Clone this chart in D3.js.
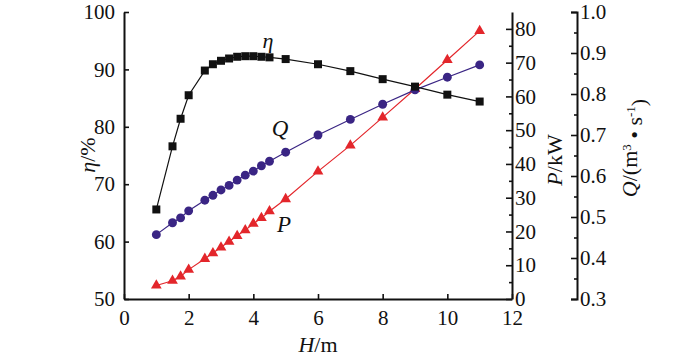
<!DOCTYPE html>
<html><head><meta charset="utf-8">
<script src="https://cdn.jsdelivr.net/npm/d3@7"></script>
<style>body{margin:0;background:#fff}svg{display:block}</style>
</head><body><svg id="c" width="700" height="358"></svg>
<script>
const H   = [1, 1.5, 1.75, 2, 2.5, 2.75, 3, 3.25, 3.5, 3.75, 4, 4.25, 4.5, 5, 6, 7, 8, 9, 10, 11];
const eta = [65.6, 76.6, 81.4, 85.5, 89.8, 90.9, 91.5, 91.9, 92.2, 92.3, 92.3, 92.2, 92.1, 91.8, 90.9, 89.7, 88.3, 87.0, 85.6, 84.4];
const Q   = [0.457, 0.486, 0.498, 0.515, 0.541, 0.553, 0.566, 0.577, 0.590, 0.602, 0.612, 0.625, 0.636, 0.658, 0.700, 0.738, 0.775, 0.810, 0.841, 0.871];
const P   = [4.0, 5.4, 6.7, 8.7, 11.9, 13.6, 15.3, 17.0, 18.7, 20.4, 22.3, 24.0, 26.0, 29.6, 37.8, 45.5, 53.8, 62.2, 70.8, 79.4];
const xTicks = [0, 2, 4, 6, 8, 10, 12];
const etaTicks = [50, 60, 70, 80, 90, 100];
const pTicks = [0, 10, 20, 30, 40, 50, 60, 70, 80];
const qTicks = [0.3, 0.4, 0.5, 0.6, 0.7, 0.8, 0.9, 1.0];

const FONT = '"Liberation Serif", "Times New Roman", Times, "DejaVu Serif", serif';
const svg = d3.select("#c").attr("font-family", FONT);
const L = 124, R = 512, T = 12, B = 299, QX = 577;
const x = d3.scaleLinear().domain([0, 12]).range([L, R]);
const yE = d3.scaleLinear().domain([50, 100]).range([B, T]);
const yP = d3.scaleLinear().domain([0, 85]).range([B, T]);
const yQ = d3.scaleLinear().domain([0.3, 1.0]).range([B, T]);
const FS = 21;

function styleAxis(g, sw) {
  g.attr("font-family", FONT);
  g.select(".domain").attr("stroke", "#111").attr("stroke-width", sw);
  g.selectAll(".tick line").attr("stroke", "#111").attr("stroke-width", 1.6);
  g.selectAll(".tick text").style("font-size", FS + "px").style("font-family", FONT).attr("fill", "#111");
}

// x axis
const gx = svg.append("g").attr("transform", `translate(0,${B})`)
  .call(d3.axisBottom(x).tickValues(xTicks).tickSize(-5).tickSizeOuter(0).tickPadding(11));
styleAxis(gx, 2);
gx.selectAll(".tick text").attr("dy", "0.71em");

// left axis
const gl = svg.append("g").attr("transform", `translate(${L},0)`)
  .call(d3.axisLeft(yE).tickValues(etaTicks).tickSize(-5).tickSizeOuter(0).tickPadding(9));
styleAxis(gl, 2);

// P axis (right of plot), minor ticks every 5
const gpm = svg.append("g").attr("transform", `translate(${R},0)`)
  .call(d3.axisRight(yP).tickValues(d3.range(5, 85, 10)).tickSize(-3).tickSizeOuter(0).tickFormat(""));
gpm.select(".domain").remove();
gpm.selectAll(".tick line").attr("stroke", "#111").attr("stroke-width", 1.6);
const gp = svg.append("g").attr("transform", `translate(${R},0)`)
  .call(d3.axisRight(yP).tickValues(pTicks).tickSize(-6).tickSizeOuter(0).tickPadding(3));
styleAxis(gp, 2);
gp.selectAll(".tick text").attr("x", 3);

// Q axis, minor ticks every 0.05
const gqm = svg.append("g").attr("transform", `translate(${QX},0)`)
  .call(d3.axisRight(yQ).tickValues(d3.range(0.35, 1.0, 0.1)).tickSize(-3).tickSizeOuter(0).tickFormat(""));
gqm.select(".domain").remove();
gqm.selectAll(".tick line").attr("stroke", "#111").attr("stroke-width", 1.6);
const gq = svg.append("g").attr("transform", `translate(${QX},0)`)
  .call(d3.axisRight(yQ).tickValues(qTicks).tickSize(-6).tickSizeOuter(-6).tickFormat(d3.format(".1f")).tickPadding(3));
styleAxis(gq, 2);
gq.selectAll(".tick text").attr("x", 3);

// series
const pts = H.map((h, i) => ({ h, e: eta[i], q: Q[i], p: P[i] }));
const cE = "#111", cQ = "#3a2584", cP = "#e3262b";

function series(acc, yS, col, sym, size) {
  svg.append("path").datum(pts)
    .attr("fill", "none").attr("stroke", col).attr("stroke-width", 1.2)
    .attr("d", d3.line().x(d => x(d.h)).y(d => yS(acc(d))));
  svg.append("g").selectAll("path").data(pts).join("path")
    .attr("transform", d => `translate(${x(d.h)},${yS(acc(d))})`)
    .attr("d", d3.symbol().type(sym).size(size))
    .attr("fill", col);
}
series(d => d.p, yP, cP, d3.symbolTriangle, 50);
series(d => d.q, yQ, cQ, d3.symbolCircle, 62);
series(d => d.e, yE, cE, d3.symbolSquare, 64);

function txt(x0, y0, size) {
  return svg.append("text").attr("x", x0).attr("y", y0).attr("text-anchor", "middle")
    .style("font-size", size + "px").style("font-family", FONT).attr("fill", "#111");
}
// curve labels
txt(268, 48, 22).style("font-style", "italic").text("η");
txt(280, 136, 23).style("font-style", "italic").text("Q");
txt(284, 232, 23).style("font-style", "italic").text("P");

// axis titles
const tx = txt(318, 352, 22);
tx.append("tspan").style("font-style", "italic").text("H");
tx.append("tspan").text("/m");

function rtxt(x0, y0) {
  return svg.append("text").attr("transform", `translate(${x0},${y0}) rotate(-90)`).attr("text-anchor", "middle")
    .style("font-size", "22px").style("font-family", FONT).attr("fill", "#111");
}
const tl = rtxt(95, 155);
tl.append("tspan").style("font-style", "italic").text("η");
tl.append("tspan").text("/%");

const tp = rtxt(562, 160);
tp.append("tspan").style("font-style", "italic").text("P");
tp.append("tspan").text("/kW");

const tq = rtxt(637, 148);
tq.append("tspan").style("font-style", "italic").text("Q");
tq.append("tspan").text("/(m");
tq.append("tspan").attr("dy", "-0.5em").style("font-size", "13px").text("3");
tq.append("tspan").attr("dy", "0.5em").text(" • s");
tq.append("tspan").attr("dy", "-0.5em").style("font-size", "13px").text("-1");
tq.append("tspan").attr("dy", "0.5em").text(")");
</script></body></html>
